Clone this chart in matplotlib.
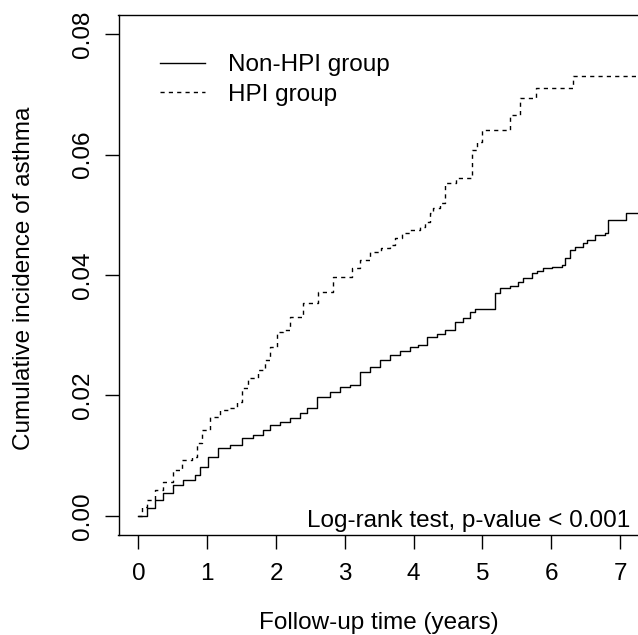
import matplotlib
matplotlib.use("Agg")
import matplotlib.pyplot as plt

plt.rcParams['font.family'] = ['Liberation Sans', 'DejaVu Sans']

# Non-HPI group (step function: time in years, cumulative incidence)
non_hpi_t = [0, 0.124, 0.24, 0.356, 0.50, 0.64, 0.82, 0.89, 1.01, 1.15, 1.33, 1.50,
             1.66, 1.81, 1.91, 2.06, 2.20, 2.35, 2.45, 2.60, 2.78, 2.93, 3.07, 3.22,
             3.37, 3.51, 3.66, 3.80, 3.95, 4.06, 4.19, 4.34, 4.45, 4.60, 4.72, 4.82,
             4.89, 5.18, 5.25, 5.40, 5.52, 5.59, 5.72, 5.79, 5.88, 6.01, 6.16, 6.20,
             6.27, 6.35, 6.46, 6.52, 6.64, 6.78, 6.82, 7.08, 7.30]
non_hpi_v = [0, 0.0013, 0.0027, 0.0038, 0.0051, 0.0060, 0.0068, 0.0081, 0.0098, 0.0113,
             0.0118, 0.0129, 0.0134, 0.0143, 0.0151, 0.0156, 0.0163, 0.0171, 0.0179,
             0.0198, 0.0206, 0.0214, 0.0217, 0.0239, 0.0247, 0.0259, 0.0267, 0.0274,
             0.0281, 0.0284, 0.0297, 0.0302, 0.0309, 0.0322, 0.0329, 0.0339, 0.0344,
             0.0370, 0.0378, 0.0382, 0.0388, 0.0395, 0.0403, 0.0407, 0.0412, 0.0413,
             0.0417, 0.0428, 0.0441, 0.0446, 0.0453, 0.0458, 0.0466, 0.0470, 0.0492,
             0.0503, 0.0503]

# HPI group
hpi_t = [0, 0.05, 0.12, 0.24, 0.36, 0.50, 0.63, 0.78, 0.85, 0.92, 1.04, 1.18, 1.33,
         1.43, 1.50, 1.59, 1.74, 1.84, 1.91, 2.01, 2.10, 2.20, 2.39, 2.61, 2.83, 3.10,
         3.22, 3.37, 3.52, 3.66, 3.73, 3.83, 3.95, 4.09, 4.16, 4.24, 4.28, 4.38, 4.46,
         4.62, 4.85, 4.92, 5.00, 5.40, 5.55, 5.78, 6.32, 7.30]
hpi_v = [0, 0.0015, 0.0027, 0.0043, 0.0056, 0.0076, 0.0093, 0.0098, 0.0121, 0.0143,
         0.0164, 0.0176, 0.0179, 0.0189, 0.0212, 0.0229, 0.0242, 0.0259, 0.0280, 0.0305,
         0.0309, 0.0330, 0.0354, 0.0372, 0.0397, 0.0412, 0.0425, 0.0438, 0.0445, 0.0450,
         0.0461, 0.0470, 0.0475, 0.0480, 0.0488, 0.0503, 0.0511, 0.0520, 0.0553, 0.0561,
         0.0607, 0.0621, 0.0641, 0.0666, 0.0694, 0.0710, 0.0730, 0.0730]

x_ticks = [0, 1, 2, 3, 4, 5, 6, 7]
y_ticks = [0.00, 0.02, 0.04, 0.06, 0.08]
y_tick_labels = ["0.00", "0.02", "0.04", "0.06", "0.08"]
series_labels = ["Non-HPI group", "HPI group"]

W, H = 638, 635
fig = plt.figure(figsize=(W / 100, H / 100), dpi=100)
left_px, right_px, top_px, bot_px = 118.5, 645.6, 15, 535
ax = fig.add_axes([left_px / W, (H - bot_px) / H, (right_px - left_px) / W, (bot_px - top_px) / H])

ax.plot(non_hpi_t, non_hpi_v, drawstyle='steps-post', color='black', lw=1.0,
        label=series_labels[0])
ax.plot(hpi_t, hpi_v, drawstyle='steps-post', color='black', lw=1.0,
        linestyle=(0, (3, 3)), label=series_labels[1])

ax.set_xlim(-0.2907, 7.372)
ax.set_ylim(-0.003154, 0.083154)

ax.set_xticks(x_ticks)
ax.set_xticklabels([str(t) for t in x_ticks])
ax.set_yticks(y_ticks)
ax.set_yticklabels(y_tick_labels, rotation=90, va='center')

fs = 17.5
ax.tick_params(axis='both', direction='out', length=10, width=1.0, labelsize=fs, color='black')
ax.tick_params(axis='x', pad=10)
ax.tick_params(axis='y', pad=8)
for s in ax.spines.values():
    s.set_linewidth(1.0)
    s.set_color('black')

ax.set_xlabel("Follow-up time (years)", fontsize=fs)
ax.xaxis.set_label_coords((378.5 - left_px) / (right_px - left_px), (bot_px - 623) / (bot_px - top_px))
ax.xaxis.label.set_va('center')
ax.set_ylabel("Cumulative incidence of asthma", fontsize=fs)
ax.yaxis.set_label_coords((24 - left_px) / (right_px - left_px), (bot_px - 278) / (bot_px - top_px))
ax.yaxis.label.set_va('center')

ax.legend(loc='upper left', bbox_to_anchor=(160 / W, 1 - 54 / H), bbox_transform=fig.transFigure,
          frameon=False, fontsize=fs, handlelength=1.85, handletextpad=0.95,
          borderpad=0, borderaxespad=0, labelspacing=0.32)

fig.text(630 / W, 1 - 527 / H, "Log-rank test, p-value < 0.001", ha='right', va='baseline',
         fontsize=fs)

fig.savefig("out.png", dpi=100)
